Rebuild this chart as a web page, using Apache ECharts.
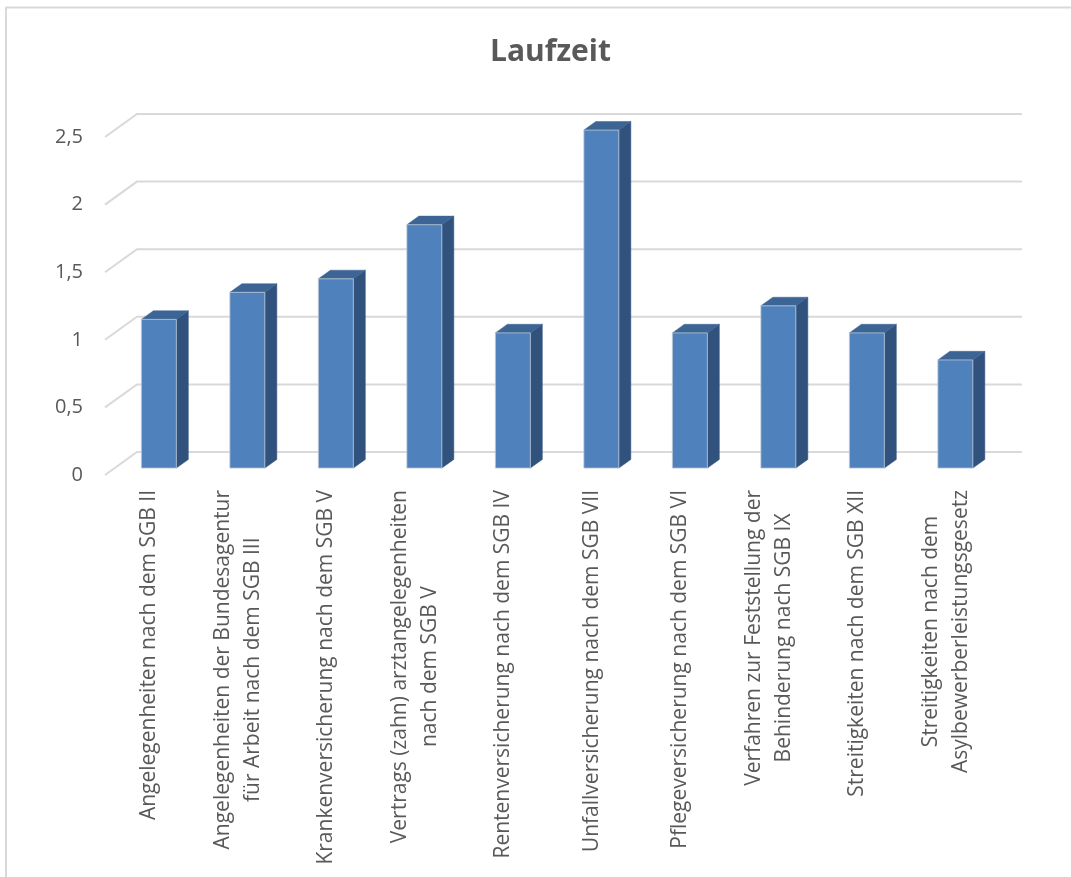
<!DOCTYPE html>
<html>
<head>
<meta charset="utf-8">
<script src="https://cdn.jsdelivr.net/npm/echarts@6/dist/echarts.min.js"></script>
<style>
html,body{margin:0;padding:0;background:#fff;}
#chart{width:1071px;height:877px;}
</style>
</head>
<body>
<div id="chart"></div>
<script>
const titleText = 'Laufzeit';
const categories = [
  'Angelegenheiten nach dem SGB II',
  'Angelegenheiten der Bundesagentur\nfür Arbeit nach dem SGB III',
  'Krankenversicherung nach dem SGB V',
  'Vertrags (zahn) arztangelegenheiten\nnach dem SGB V',
  'Rentenversicherung nach dem SGB IV',
  'Unfallversicherung nach dem SGB VII',
  'Pflegeversicherung nach dem SGB VI',
  'Verfahren zur Feststellung der\nBehinderung nach SGB IX',
  'Streitigkeiten nach dem SGB XII',
  'Streitigkeiten nach dem\nAsylbewerberleistungsgesetz'
];
const laufzeit = [1.1, 1.3, 1.4, 1.8, 1.0, 2.5, 1.0, 1.2, 1.0, 0.8];
const yTicks = [0, 0.5, 1, 1.5, 2, 2.5];

// 3D look (pixel offsets of the back wall relative to the front plane)
const DEPTH_X = 32, DEPTH_Y = -23;
const F0 = 0.3, F1 = 0.675;
const BAR_RATIO = 0.395;

const chart = echarts.init(document.getElementById('chart'));

function gridRender(params, api) {
  const cs = params.coordSys;
  const y = api.coord([0, api.value(0)])[1];
  return {
    type: 'polyline',
    shape: { points: [[cs.x, y], [cs.x + DEPTH_X, y + DEPTH_Y], [cs.x + cs.width + DEPTH_X, y + DEPTH_Y]] },
    style: { stroke: '#D9D9D9', lineWidth: 2, fill: null }
  };
}

function barRender(params, api) {
  const i = api.value(0), v = api.value(1);
  const base = api.coord([i, 0]);
  const top = api.coord([i, v]);
  const bw = api.size([1, 0])[0] * BAR_RATIO;
  const ox = DEPTH_X * F0, oy = DEPTH_Y * F0;
  const sx = DEPTH_X * (F1 - F0), sy = DEPTH_Y * (F1 - F0);
  const x0 = base[0] - bw / 2 + ox, x1 = x0 + bw;
  const yb = base[1] + oy, yt = top[1] + oy;
  return {
    type: 'group',
    children: [
      { type: 'polygon', shape: { points: [[x1, yt], [x1 + sx, yt + sy], [x1 + sx, yb + sy], [x1, yb]] },
        style: { fill: '#31527D', stroke: '#31527D', lineWidth: 0.5 } },
      { type: 'polygon', shape: { points: [[x0, yt], [x0 + sx, yt + sy], [x1 + sx, yt + sy], [x1, yt]] },
        style: { fill: '#3C6494', stroke: '#3C6494', lineWidth: 0.5 } },
      { type: 'rect', shape: { x: x0, y: yt, width: bw, height: yb - yt },
        style: { fill: '#4F81BD', stroke: 'rgba(190,200,215,0.8)', lineWidth: 1 } }
    ]
  };
}

function labelFmt(val) {
  return val.split('\n').map(s => '{c|' + s + '}').join('\n');
}

chart.setOption({
  animation: false,
  backgroundColor: '#ffffff',
  title: {
    text: titleText,
    left: 485,
    top: 32,
    textStyle: { fontFamily: 'Open Sans', fontWeight: 'bold', fontSize: 30, color: '#595959' }
  },
  graphic: [
    { type: 'line', shape: { x1: 6, y1: 7.5, x2: 1071, y2: 7.5 }, style: { stroke: '#D9D9D9', lineWidth: 2 } },
    { type: 'line', shape: { x1: 6, y1: 7, x2: 6, y2: 877 }, style: { stroke: '#D9D9D9', lineWidth: 2 } }
  ],
  grid: { left: 105, right: 81, top: 137, bottom: 402, containLabel: false },
  xAxis: {
    type: 'category',
    data: categories,
    axisLine: { show: false },
    axisTick: { show: false },
    axisLabel: {
      rotate: 90,
      interval: 0,
      margin: 15,
      color: '#595959',
      fontFamily: 'Open Sans',
      fontSize: 21,
      formatter: labelFmt,
      rich: { c: { align: 'center', fontFamily: 'Open Sans', fontSize: 21, color: '#595959', lineHeight: 30 } }
    }
  },
  yAxis: {
    type: 'value',
    min: 0, max: 2.5, interval: 0.5,
    axisLine: { show: false },
    axisTick: { show: false },
    splitLine: { show: false },
    axisLabel: {
      margin: 22,
      color: '#595959',
      fontFamily: 'Open Sans',
      fontSize: 20,
      formatter: v => String(v).replace('.', ',')
    }
  },
  series: [
    { type: 'custom', renderItem: gridRender, data: yTicks.map(t => [t]), encode: { y: 0 }, z: 1, silent: true },
    { type: 'custom', renderItem: barRender, data: laufzeit.map((v, i) => [i, v]), encode: { x: 0, y: 1 }, z: 2 }
  ]
});
</script>
</body>
</html>
